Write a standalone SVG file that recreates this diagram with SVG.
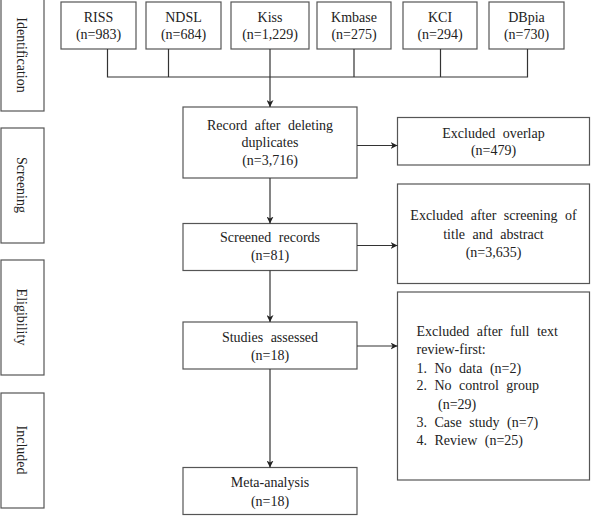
<svg xmlns="http://www.w3.org/2000/svg" width="592" height="520" viewBox="0 0 592 520">
<style>
text{font-family:"Liberation Serif","Times New Roman",serif;font-size:14px;fill:#222}
.c{text-anchor:middle}
.w{word-spacing:4px}
rect{fill:#fff;stroke:#555;stroke-width:1.2}
.ln{fill:none;stroke:#333;stroke-width:1.2}
</style>
<defs>
<marker id="ah" viewBox="0 0 10 10" refX="10" refY="5" markerWidth="7" markerHeight="7" markerUnits="userSpaceOnUse" orient="auto">
<path d="M0,0 L10,5 L0,10 L3,5 Z" fill="#222"/>
</marker>
</defs>
<g id="stage-identification"><rect x="1" y="-4" width="43" height="115"/><text class="c" transform="translate(22,55) rotate(90)" dy="5">Identification</text></g>
<g id="stage-screening"><rect x="1" y="128" width="43" height="115"/><text class="c" transform="translate(22,185) rotate(90)" dy="5">Screening</text></g>
<g id="stage-eligibility"><rect x="1" y="260" width="43" height="115"/><text class="c" transform="translate(22,317) rotate(90)" dy="5">Eligibility</text></g>
<g id="stage-included"><rect x="1" y="393" width="43" height="115"/><text class="c" transform="translate(22,450) rotate(90)" dy="5">Included</text></g>

<g id="riss"><rect x="61" y="2" width="75" height="47"/><text class="c" x="98.5" y="22">RISS</text><text class="c" x="98.5" y="39">(n=983)</text></g>
<g id="ndsl"><rect x="146" y="2" width="75" height="47"/><text class="c" x="183.5" y="22">NDSL</text><text class="c" x="183.5" y="39">(n=684)</text></g>
<g id="kiss"><rect x="231" y="2" width="78" height="47"/><text class="c" x="270" y="22">Kiss</text><text class="c" x="270" y="39">(n=1,229)</text></g>
<g id="kmbase"><rect x="317" y="2" width="74" height="47"/><text class="c" x="354" y="22">Kmbase</text><text class="c" x="354" y="39">(n=275)</text></g>
<g id="kci"><rect x="403" y="2" width="74" height="47"/><text class="c" x="440" y="22">KCI</text><text class="c" x="440" y="39">(n=294)</text></g>
<g id="dbpia"><rect x="489" y="2" width="75" height="47"/><text class="c" x="526.5" y="22">DBpia</text><text class="c" x="526.5" y="39">(n=730)</text></g>

<g id="record"><rect x="183" y="107" width="174" height="71"/><text class="c w" x="270" y="130">Record after deleting</text><text class="c" x="270" y="147">duplicates</text><text class="c" x="270" y="164.5">(n=3,716)</text></g>
<g id="screened"><rect x="183" y="223.5" width="174" height="47"/><text class="c w" x="270" y="242">Screened records</text><text class="c" x="270" y="259.5">(n=81)</text></g>
<g id="studies"><rect x="183" y="322" width="174" height="47"/><text class="c w" x="270" y="342">Studies assessed</text><text class="c" x="270" y="360">(n=18)</text></g>
<g id="meta"><rect x="183" y="467.5" width="174" height="47"/><text class="c" x="270" y="487">Meta-analysis</text><text class="c" x="270" y="506">(n=18)</text></g>

<g id="excl-overlap"><rect x="397.5" y="117.5" width="192" height="47.5"/><text class="c w" x="493.5" y="137.5">Excluded overlap</text><text class="c" x="493.5" y="155">(n=479)</text></g>
<g id="excl-screening"><rect x="397.5" y="184" width="192" height="99.5"/><text class="c w" x="493.5" y="220">Excluded after screening of</text><text class="c w" x="493.5" y="238.5">title and abstract</text><text class="c" x="493.5" y="257">(n=3,635)</text></g>
<g id="excl-fulltext"><rect x="397.5" y="292" width="192" height="188"/>
<text class="w" x="416.5" y="336">Excluded after full text</text>
<text x="416.5" y="354">review-first:</text>
<text class="w" x="416.5" y="372.5">1. No data (n=2)</text>
<text class="w" x="416.5" y="390">2. No control group</text>
<text x="438" y="408.5">(n=29)</text>
<text class="w" x="416.5" y="426.5">3. Case study (n=7)</text>
<text class="w" x="416.5" y="445">4. Review (n=25)</text>
</g>

<g id="connectors">
<path class="ln" d="M107.5,49 V77 H527.5 V49 M168.5,49 V77 M354,49 V77 M440.5,49 V77 M270,49 V77"/>
<path class="ln" d="M270,77 V107" marker-end="url(#ah)"/>
<path class="ln" d="M270,178 V223.5" marker-end="url(#ah)"/>
<path class="ln" d="M270,270.5 V322" marker-end="url(#ah)"/>
<path class="ln" d="M270,369 V467.5" marker-end="url(#ah)"/>
<path class="ln" d="M357,145.5 H397.5" marker-end="url(#ah)"/>
<path class="ln" d="M357,245.5 H397.5" marker-end="url(#ah)"/>
<path class="ln" d="M357,346 H397.5" marker-end="url(#ah)"/>
</g>
</svg>
